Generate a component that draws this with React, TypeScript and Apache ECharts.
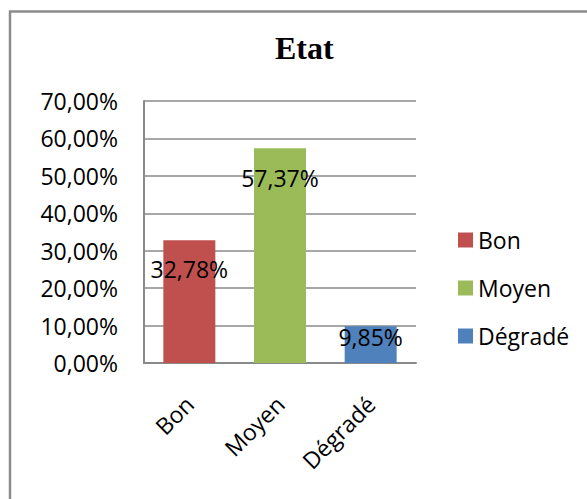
import React, { useEffect, useRef } from "react";
import * as echarts from "echarts";

// Categories, values and tick labels of the "Etat" chart
const categories = ["Bon", "Moyen", "Dégradé"];
const values = [0.3278, 0.5737, 0.0985];
const colors = ["#C0504D", "#9BBB59", "#4F81BD"];
const yTicks = [0, 0.1, 0.2, 0.3, 0.4, 0.5, 0.6, 0.7];

// Distance of each value label below the top of its bar
const labelDistance = [18, 19, 0];

const FONT = "Open Sans";
const fmtPct = (v: number) => (v * 100).toFixed(2).replace(".", ",") + "%";

export default function App() {
  const ref = useRef<HTMLDivElement>(null);

  useEffect(() => {
    if (!ref.current) return;
    const chart = echarts.init(ref.current, undefined, { renderer: "svg" });

    const series = categories.map((name, i) => ({
      name,
      type: "bar",
      stack: "etat",
      barWidth: 52,
      itemStyle: { color: colors[i] },
      label: {
        show: true,
        position: "insideTop",
        distance: labelDistance[i],
        fontFamily: FONT,
        fontSize: 23,
        lineHeight: 22,
        color: "#000",
        formatter: (p: any) => fmtPct(p.value),
      },
      data: categories.map((_, j) => (j === i ? values[i] : "-")),
    }));

    chart.setOption({
      animation: false,
      backgroundColor: "#fff",
      title: {
        text: "Etat",
        left: 275,
        top: 32,
        padding: 0,
        textStyle: {
          fontFamily: "Liberation Serif",
          fontWeight: "bold",
          fontSize: 32,
          color: "#000",
        },
      },
      legend: {
        orient: "vertical",
        left: 458,
        top: 228,
        padding: 0,
        itemWidth: 15,
        itemHeight: 15,
        itemGap: 24,
        itemTextGap: 6,
        icon: "rect",
        textStyle: { fontFamily: FONT, fontSize: 23, lineHeight: 24, color: "#000" },
        data: categories,
      },
      grid: {
        left: 144,
        right: 171,
        top: 101,
        bottom: 136,
        containLabel: false,
        outerBoundsMode: "none",
      },
      xAxis: {
        type: "category",
        data: categories,
        axisTick: { show: false },
        axisLine: { lineStyle: { color: "#898989", width: 2 } },
        axisLabel: {
          rotate: 45,
          margin: 37,
          interval: 0,
          fontFamily: FONT,
          fontSize: 23,
          color: "#000",
        },
      },
      yAxis: {
        type: "value",
        min: yTicks[0],
        max: yTicks[yTicks.length - 1],
        interval: 0.1,
        axisLine: { show: true, lineStyle: { color: "#898989", width: 2 } },
        axisTick: { show: false },
        splitLine: { lineStyle: { color: "#8a8a8a", width: 1.6 } },
        axisLabel: {
          margin: 26,
          fontFamily: FONT,
          fontSize: 23,
          color: "#000",
          formatter: (v: number) => fmtPct(v),
        },
      },
      graphic: [
        {
          type: "rect",
          silent: true,
          z: -10,
          shape: { x: 10, y: 11.5, width: 700, height: 700 },
          style: { fill: "none", stroke: "#8c8c8c", lineWidth: 2.5 },
        },
      ],
      series,
    });

    return () => chart.dispose();
  }, []);

  return (
    <div
      ref={ref}
      style={{ position: "fixed", left: 0, top: 0, width: 587, height: 499 }}
    />
  );
}
